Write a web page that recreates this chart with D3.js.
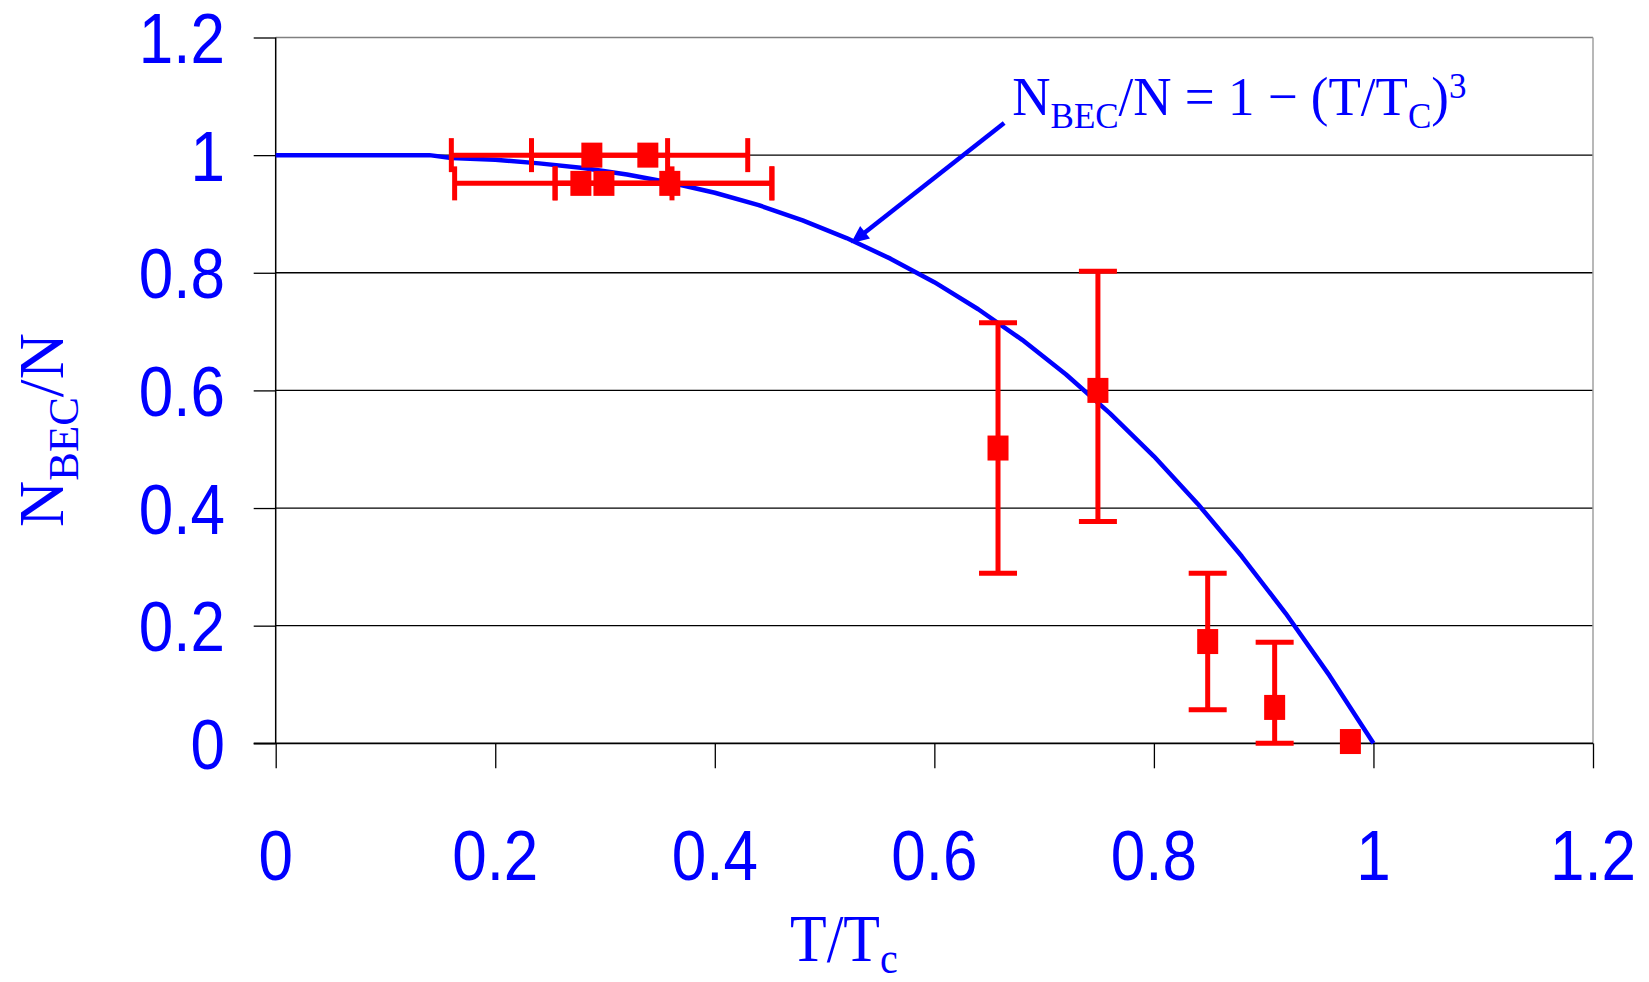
<!DOCTYPE html>
<html>
<head>
<meta charset="utf-8">
<script src="https://cdn.jsdelivr.net/npm/d3@7"></script>
<style>
  body { margin: 0; background: #fff; }
  svg { display: block; }
</style>
</head>
<body>
<div id="chart"></div>
<script>
// theory curve N_BEC/N vs T/Tc
var curveT = [0, 0.14, 0.16, 0.2, 0.24, 0.28, 0.32, 0.36, 0.4, 0.44, 0.48, 0.52, 0.56, 0.6, 0.64, 0.68, 0.72, 0.76, 0.8, 0.84, 0.88, 0.92, 0.96, 1.0];
var curveN = [1, 1, 0.995, 0.992, 0.986, 0.978, 0.967, 0.953, 0.936, 0.915, 0.889, 0.859, 0.824, 0.784, 0.738, 0.686, 0.627, 0.561, 0.488, 0.407, 0.318, 0.221, 0.115, 0.0];

// measured points (red squares) + error bars
var ptT   = [0.288, 0.339, 0.278, 0.299, 0.359, 0.658, 0.749, 0.849, 0.910, 0.979];
var ptN   = [1.0,   1.0,   0.952, 0.952, 0.952, 0.502, 0.600, 0.173, 0.061, 0.003];
var xErrLo = [0.160, 0.233, 0.163, 0.2545, 0.2545, null, null, null, null, null];
var xErrHi = [0.430, 0.357, 0.361, 0.452, 0.452, null, null, null, null, null];
var yErrLo = [null, null, null, null, null, 0.289, 0.377, 0.057, 0.0, null];
var yErrHi = [null, null, null, null, null, 0.715, 0.8025, 0.289, 0.172, null];

var xTicks = [0, 0.2, 0.4, 0.6, 0.8, 1, 1.2];
var yTicks = [0, 0.2, 0.4, 0.6, 0.8, 1, 1.2];
var xTickLabels = ['0', '0.2', '0.4', '0.6', '0.8', '1', '1.2'];
var yTickLabels = ['0', '0.2', '0.4', '0.6', '0.8', '1', '1.2'];

var BLUE = '#0000ff', RED = '#ff0000';
var W = 1649, H = 982;
var stretch = 1.13; // text in the original is a bit taller than wide

var svg = d3.select('#chart').append('svg')
  .attr('width', W).attr('height', H);

var x = d3.scaleLinear().domain([0, 1.2]).range([275.7, 1593]);
var y = d3.scaleLinear().domain([0, 1.2]).range([743.3, 37.5]);

// gridlines
svg.append('g').selectAll('line')
  .data(yTicks.filter(function(d){ return d > 0 && d < 1.2; }))
  .enter().append('line')
  .attr('x1', x(0)).attr('x2', x(1.2))
  .attr('y1', function(d){ return y(d); })
  .attr('y2', function(d){ return y(d); })
  .attr('stroke', '#000').attr('stroke-width', 1.3);

// frame: gray top / right
svg.append('line')
  .attr('x1', x(0)).attr('x2', x(1.2)).attr('y1', y(1.2)).attr('y2', y(1.2))
  .attr('stroke', '#808080').attr('stroke-width', 1.5);
svg.append('line')
  .attr('x1', x(1.2)).attr('x2', x(1.2)).attr('y1', y(1.2)).attr('y2', y(0))
  .attr('stroke', '#a0a0a0').attr('stroke-width', 1.5);

// axes (ticks only, labels drawn below)
var yAxis = d3.axisLeft(y).tickValues(yTicks).tickSize(22).tickFormat('');
var xAxis = d3.axisBottom(x).tickValues(xTicks).tickSize(25).tickFormat('');

var gy = svg.append('g').attr('transform', 'translate(' + x(0) + ',0)').call(yAxis);
var gx = svg.append('g').attr('transform', 'translate(0,' + y(0) + ')').call(xAxis);
gy.select('.domain').remove();
gx.select('.domain').remove();
gy.selectAll('.tick line').attr('stroke', '#000').attr('stroke-width', 1.3);
gx.selectAll('.tick line').attr('stroke', '#000').attr('stroke-width', 1.3);

// axis lines
svg.append('line')
  .attr('x1', x(0)).attr('x2', x(0)).attr('y1', y(1.2)).attr('y2', y(0))
  .attr('stroke', '#000').attr('stroke-width', 1.5);
svg.append('line')
  .attr('x1', x(0) - 22).attr('x2', x(1.2)).attr('y1', y(0)).attr('y2', y(0))
  .attr('stroke', '#000').attr('stroke-width', 1.8);

// tick labels
svg.append('g').selectAll('text')
  .data(yTicks)
  .enter().append('text')
  .attr('transform', function(d){ return 'translate(225,' + (y(d) + 25.5) + ') scale(1,' + stretch + ')'; })
  .attr('text-anchor', 'end')
  .attr('font-family', "'Liberation Sans', Arial, sans-serif")
  .attr('font-size', 62)
  .attr('fill', BLUE)
  .text(function(d, i){ return yTickLabels[i]; });

svg.append('g').selectAll('text')
  .data(xTicks)
  .enter().append('text')
  .attr('transform', function(d){ return 'translate(' + x(d) + ',880) scale(1,' + stretch + ')'; })
  .attr('text-anchor', 'middle')
  .attr('font-family', "'Liberation Sans', Arial, sans-serif")
  .attr('font-size', 62)
  .attr('fill', BLUE)
  .text(function(d, i){ return xTickLabels[i]; });

// theory curve
var curve = curveT.map(function(t, i){ return [t, curveN[i]]; });
svg.append('path')
  .datum(curve)
  .attr('fill', 'none')
  .attr('stroke', BLUE)
  .attr('stroke-width', 4.5)
  .attr('stroke-linejoin', 'round')
  .attr('d', d3.line().x(function(d){ return x(d[0]); }).y(function(d){ return y(d[1]); }));

// error bars
var pts = ptT.map(function(t, i){
  return {t: t, n: ptN[i], xl: xErrLo[i], xh: xErrHi[i], yl: yErrLo[i], yh: yErrHi[i]};
});
var eb = svg.append('g').attr('stroke', RED).attr('stroke-width', 5).attr('fill', 'none');
pts.forEach(function(p){
  if (p.xl !== null) {
    eb.append('line').attr('x1', x(p.xl)).attr('x2', x(p.xh)).attr('y1', y(p.n)).attr('y2', y(p.n));
    [p.xl, p.xh].forEach(function(v){
      eb.append('line').attr('x1', x(v)).attr('x2', x(v))
        .attr('y1', y(p.n) - 17).attr('y2', y(p.n) + 17);
    });
  }
  if (p.yl !== null) {
    eb.append('line').attr('x1', x(p.t)).attr('x2', x(p.t)).attr('y1', y(p.yl)).attr('y2', y(p.yh));
    [p.yl, p.yh].forEach(function(v){
      eb.append('line').attr('x1', x(p.t) - 19).attr('x2', x(p.t) + 19)
        .attr('y1', y(v)).attr('y2', y(v));
    });
  }
});

// markers
svg.append('g').selectAll('rect')
  .data(pts)
  .enter().append('rect')
  .attr('x', function(d){ return x(d.t) - 10.5; })
  .attr('y', function(d){ return y(d.n) - 12.5; })
  .attr('width', 21).attr('height', 25)
  .attr('fill', RED);

// annotation arrow
var arrowFrom = [0.6636, 1.0546], arrowTo = [0.524, 0.850];
var ax0 = x(arrowFrom[0]), ay0 = y(arrowFrom[1]), ax1 = x(arrowTo[0]), ay1 = y(arrowTo[1]);
var ang = Math.atan2(ay1 - ay0, ax1 - ax0);
svg.append('line')
  .attr('x1', ax0).attr('y1', ay0)
  .attr('x2', ax1 - 8 * Math.cos(ang)).attr('y2', ay1 - 8 * Math.sin(ang))
  .attr('stroke', BLUE).attr('stroke-width', 4.5);
var hl = 18, hw = 8;
var bx = ax1 - hl * Math.cos(ang), by = ay1 - hl * Math.sin(ang);
svg.append('path')
  .attr('d', 'M' + ax1 + ',' + ay1 +
    'L' + (bx + hw * Math.sin(ang)) + ',' + (by - hw * Math.cos(ang)) +
    'L' + (bx - hw * Math.sin(ang)) + ',' + (by + hw * Math.cos(ang)) + 'Z')
  .attr('fill', BLUE);

// annotation text
var serif = "'Liberation Serif', 'Times New Roman', serif";
var ann = svg.append('text')
  .attr('transform', 'translate(' + x(0.671) + ',' + y(1.069) + ') scale(1,1.04)')
  .attr('font-family', serif).attr('font-size', 53).attr('fill', BLUE);
ann.append('tspan').text('N');
ann.append('tspan').attr('font-size', 35).attr('dy', 12.5).text('BEC');
ann.append('tspan').attr('dy', -12.5).text('/N = 1 \u2212 (T/T');
ann.append('tspan').attr('font-size', 35).attr('dy', 12.5).text('C');
ann.append('tspan').attr('dy', -12.5).text(')');
ann.append('tspan').attr('font-size', 35).attr('dy', -16).text('3');

// x title
var xt = svg.append('text')
  .attr('transform', 'translate(790,961) scale(1,' + stretch + ')')
  .attr('font-family', serif).attr('font-size', 60).attr('fill', BLUE);
xt.append('tspan').text('T/T');
xt.append('tspan').attr('font-size', 40).attr('dy', 11).text('c');

// y title
var yt = svg.append('text')
  .attr('transform', 'translate(63,527) rotate(-90)')
  .attr('font-family', serif).attr('font-size', 64).attr('fill', BLUE);
yt.append('tspan').text('N');
yt.append('tspan').attr('font-size', 43).attr('dy', 15).text('BEC');
yt.append('tspan').attr('dy', -15).text('/N');
</script>
</body>
</html>
